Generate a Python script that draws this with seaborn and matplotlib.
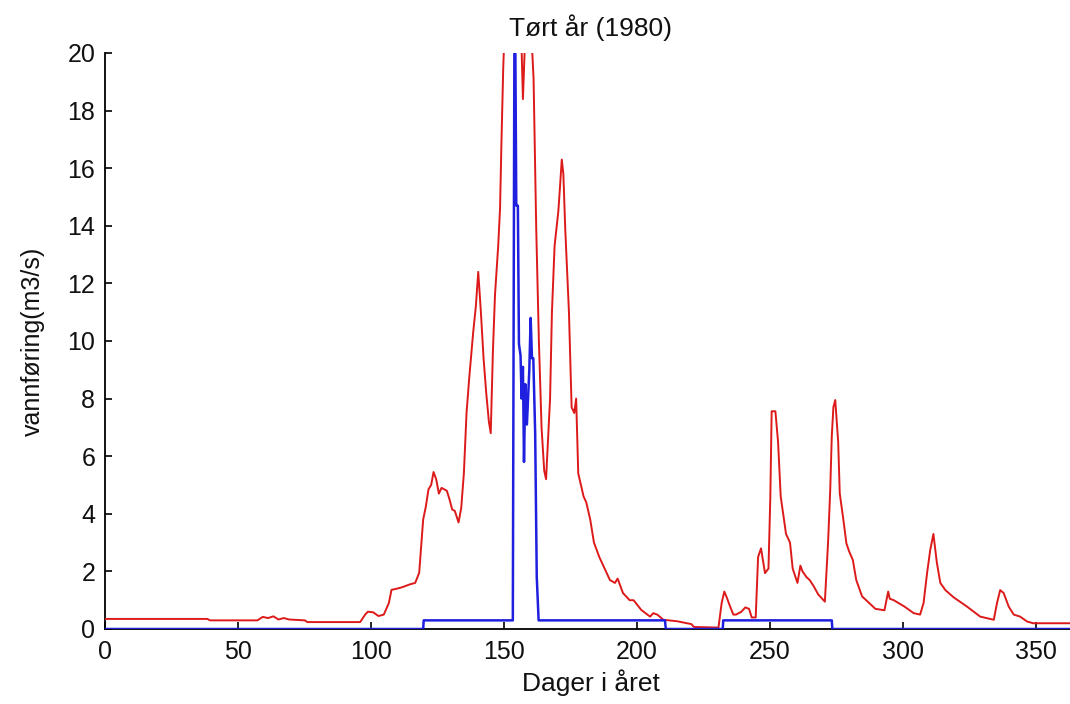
import matplotlib
matplotlib.use("Agg")
import matplotlib.pyplot as plt
import seaborn as sns
import pandas as pd

# ---- data ----
title_text = "Tørt år (1980)"
xlabel_text = "Dager i året"
ylabel_text = "vannføring(m3/s)"
x_ticks = [0, 50, 100, 150, 200, 250, 300, 350]
y_ticks = [0, 2, 4, 6, 8, 10, 12, 14, 16, 18, 20]

inflow_days = [0, 38.5, 39.5, 57.3, 59.3, 61.3, 63.3, 65.2, 67.2, 69.2, 75.1, 76.1,
               95.9, 97.8, 98.8, 100.8, 102.8, 104.8, 106.7, 107.7, 109.7, 111.7,
               114.6, 116.6, 118.1, 119.6, 120.6, 121.6, 122.6, 123.5, 124.5, 125.5,
               126.5, 128.5, 129.5, 130.5, 131.5, 132.9, 133.9, 134.9, 135.9, 136.9,
               138.4, 139.4, 140.3, 141.3, 142.3, 143.3, 144.3, 145.0, 145.8, 146.6,
               147.8, 148.5, 149.0, 149.7, 150.7, 151.2, 152.2, 153.2, 154.2, 155.2,
               156.2, 157.1, 158.1, 159.1, 160.1, 161.1, 162.1, 163.1, 164.1, 165.1,
               165.8, 167.3, 168.0, 169.0, 170.4, 171.0, 171.7, 172.3, 173.0, 174.4,
               175.4, 176.4, 177.1, 177.9, 178.9, 179.9, 180.9, 182.4, 183.8, 185.8,
               187.8, 189.8, 191.7, 192.7, 194.7, 197.2, 198.7, 201.6, 204.9, 206.1,
               207.6, 209.9, 215.0, 220.4, 221.4, 229.3, 230.6, 231.8, 232.8, 233.7,
               234.9, 236.2, 237.2, 239.2, 240.7, 242.1, 243.1, 244.6, 245.5, 246.6,
               248.1, 249.4, 250.1, 250.6, 252.0, 253.0, 254.0, 256.0, 257.5, 258.5,
               260.3, 261.4, 262.2, 263.7, 264.9, 266.3, 268.1, 270.6, 271.8, 272.6,
               273.2, 273.8, 274.5, 275.0, 275.6, 276.2, 277.4, 278.7, 279.7, 281.1,
               282.4, 284.6, 287.3, 289.6, 293.0, 294.4, 295.0, 296.5, 300.5, 304.0,
               306.4, 307.7, 309.0, 310.2, 311.4, 312.7, 314.0, 315.9, 319.0, 324.0,
               329.0, 334.1, 335.3, 336.5, 337.8, 339.7, 341.6, 344.0, 346.6, 348.9,
               365]
inflow_vals = [0.35, 0.35, 0.3, 0.3, 0.42, 0.38, 0.44, 0.33, 0.38, 0.33, 0.3, 0.24,
               0.24, 0.5, 0.6, 0.58, 0.45, 0.5, 0.9, 1.36, 1.4, 1.45,
               1.55, 1.6, 1.95, 3.8, 4.25, 4.85, 5.0, 5.45, 5.2, 4.7,
               4.9, 4.8, 4.5, 4.15, 4.1, 3.7, 4.2, 5.4, 7.5, 8.7,
               10.3, 11.2, 12.4, 11.0, 9.4, 8.2, 7.2, 6.8, 9.6, 11.6,
               13.3, 14.6, 16.8, 19.5, 22.0, 25.0, 28.0, 30.0, 29.0, 25.0,
               21.5, 18.4, 21.0, 23.0, 21.0, 19.1, 13.9, 10.0, 7.0, 5.5,
               5.2, 8.0, 11.0, 13.3, 14.5, 15.3, 16.3, 15.8, 13.9, 11.0,
               7.7, 7.5, 8.0, 5.4, 5.0, 4.6, 4.4, 3.8, 3.0, 2.5,
               2.1, 1.7, 1.6, 1.75, 1.25, 1.0, 1.0, 0.66, 0.43, 0.55,
               0.5, 0.32, 0.27, 0.17, 0.07, 0.05, 0.05, 0.9, 1.3, 1.1,
               0.8, 0.5, 0.5, 0.6, 0.75, 0.7, 0.4, 0.4, 2.5, 2.8,
               1.94, 2.1, 4.6, 7.56, 7.56, 6.5, 4.6, 3.3, 3.0, 2.1,
               1.6, 2.2, 2.0, 1.8, 1.7, 1.5, 1.2, 0.95, 3.0, 4.8,
               6.7, 7.7, 7.95, 7.3, 6.5, 4.7, 3.9, 2.97, 2.7, 2.4,
               1.7, 1.13, 0.9, 0.7, 0.65, 1.3, 1.05, 1.0, 0.78, 0.55,
               0.5, 0.9, 1.93, 2.74, 3.3, 2.3, 1.6, 1.35, 1.1, 0.78,
               0.43, 0.32, 0.9, 1.35, 1.25, 0.78, 0.5, 0.43, 0.26, 0.2,
               0.2]

release_days = [0, 119.6, 119.8, 153.3, 154.0, 154.6, 155.2, 155.6, 156.2, 156.6,
                157.1, 157.5, 158.0, 158.6, 159.5, 160.0, 160.5, 161.0, 161.7, 162.3,
                163.0, 210.5, 210.8, 232.2, 232.4, 273.2, 273.4, 365]
release_vals = [0.0, 0.0, 0.3, 0.3, 24.0, 14.7, 14.7, 9.9, 9.5, 8.0,
                9.1, 5.8, 8.5, 7.1, 9.0, 10.8, 9.4, 9.4, 6.8, 1.8,
                0.3, 0.3, 0.0, 0.0, 0.3, 0.3, 0.0, 0.0]

red_df = pd.DataFrame({"dag": inflow_days, "q": inflow_vals})
blue_df = pd.DataFrame({"dag": release_days, "q": release_vals})

# ---- style ----
sns.set_style("ticks")
plt.rcParams["font.family"] = ["Liberation Sans", "DejaVu Sans"]
plt.rcParams["xtick.direction"] = "in"
plt.rcParams["ytick.direction"] = "in"

fig = plt.figure(figsize=(10.70, 7.04), dpi=100)
ax = fig.add_axes([105 / 1070, 1 - 629 / 704, (1076 - 105) / 1070, (629 - 53) / 704])

sns.lineplot(data=red_df, x="dag", y="q", ax=ax, color="#dd1a1a", linewidth=1.4,
             sort=False, estimator=None)
sns.lineplot(data=blue_df, x="dag", y="q", ax=ax, color="#1f1fe0", linewidth=1.8,
             sort=False, estimator=None)

ax.set_xlim(0, 365)
ax.set_ylim(0, 20)
ax.set_xticks(x_ticks)
ax.set_yticks(y_ticks)
ax.tick_params(axis="both", labelsize=18, length=5, width=1.2, color="black",
               labelcolor="#111111")
ax.tick_params(axis="x", pad=8)
ax.tick_params(axis="y", pad=7)
for s in ["top", "right"]:
    ax.spines[s].set_visible(False)
for s in ["left", "bottom"]:
    ax.spines[s].set_linewidth(1.3)
    ax.spines[s].set_color("black")
    ax.spines[s].set_zorder(1)

ax.set_title(title_text, fontsize=19, pad=12, color="#111111")
ax.set_xlabel(xlabel_text, fontsize=19, labelpad=4, color="#111111")
ax.set_ylabel(ylabel_text, fontsize=18, labelpad=16, color="#111111")

fig.savefig("out.png", dpi=100)
